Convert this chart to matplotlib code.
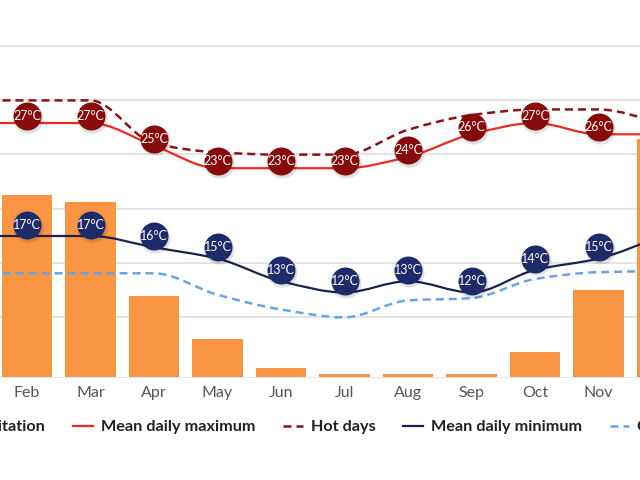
import numpy as np
import matplotlib
matplotlib.use("Agg")
import matplotlib.pyplot as plt
import matplotlib.transforms as mtransforms
from matplotlib.path import Path
from matplotlib.patches import PathPatch, Patch
from matplotlib.lines import Line2D

# ---- data ----
months = ["Jan", "Feb", "Mar", "Apr", "May", "Jun", "Jul", "Aug", "Sep", "Oct", "Nov", "Dec"]
precip_mm = [200, 167.6, 161, 74.6, 34.7, 8.3, 3, 3, 3, 23, 80, 219]
mean_max = [27, 27, 27, 25, 23, 23, 23, 24, 26, 27, 26, 26]
hot_days = [29, 29, 29, 25.2, 24.4, 24.2, 24.2, 26.4, 27.7, 28.2, 28.2, 27]
mean_min = [17, 17, 17, 16, 15, 13, 12, 13, 12, 14, 15, 17]
cold_nights = [13.7, 13.7, 13.7, 13.7, 11.8, 10.5, 9.8, 11.3, 11.5, 13.2, 13.8, 13.9]
legend_labels = ["Precipitation", "Mean daily maximum", "Hot days", "Mean daily minimum", "Cold nights"]

# ---- style ----
C_BAR = "#fa9544"
C_MAX = "#ec2a23"
C_HOT = "#8b1515"
C_MAXLBL = "#870b0b"
C_MIN = "#18244f"
C_MINLBL = "#1e2b6b"
C_COLD = "#6aa3e6"
FONT = "Lato"

plt.rcParams["font.family"] = [FONT, "DejaVu Sans"]

fig = plt.figure(figsize=(6.4, 4.8), dpi=100)
ax = fig.add_axes([0, (480 - 377) / 480, 1, 377 / 480])
ax2 = ax.twinx()

x = np.arange(len(months))

# precipitation bars
ax.bar(x, precip_mm, width=0.79, color=C_BAR, zorder=2)
ax.set_ylim(0, 377 * 50 / 54.3)
ax.set_yticks(np.arange(55, 340, 50))
ax.yaxis.grid(True, color="#e2e2e2", lw=1.3)
ax.set_axisbelow(True)
ax.set_xticks(x)
ax.set_xticklabels(months)
ax.tick_params(axis="x", length=0, pad=6.5, labelsize=11.5, labelcolor="#555555")
ax.tick_params(axis="y", length=0, labelleft=False, labelright=False)
for s in ax.spines.values():
    s.set_visible(False)
ax.spines["bottom"].set_visible(True)
ax.spines["bottom"].set_color("#e6e6e6")

ax2.set_ylim(27 - 254 / 11.3, 27 + 123 / 11.3)
ax2.set_autoscale_on(False)
ax2.set_yticks([])
for s in ax2.spines.values():
    s.set_visible(False)


def smooth_path(xs, ys):
    xs = np.asarray(xs, float)
    ys = np.asarray(ys, float)
    h = np.diff(xs)
    d = np.diff(ys) / h
    m = np.zeros_like(ys)
    m[0], m[-1] = d[0], d[-1]
    for k in range(1, len(ys) - 1):
        if d[k - 1] * d[k] <= 0:
            m[k] = 0.0
        else:
            m[k] = 2 * d[k - 1] * d[k] / (d[k - 1] + d[k])
    verts = [(xs[0], ys[0])]
    codes = [Path.MOVETO]
    for i in range(len(xs) - 1):
        hh = h[i] / 3
        verts += [(xs[i] + hh, ys[i] + m[i] * hh),
                  (xs[i + 1] - hh, ys[i + 1] - m[i + 1] * hh),
                  (xs[i + 1], ys[i + 1])]
        codes += [Path.CURVE4] * 3
    return Path(verts, codes)


def draw_line(vals, color, lw, ls, z):
    p = PathPatch(smooth_path(x, vals), fill=False, edgecolor=color, lw=lw,
                  linestyle=ls, transform=ax2.transData, zorder=z, capstyle="butt")
    ax2.add_patch(p)


dash = (0, (3.2, 2.0))
draw_line(cold_nights, C_COLD, 1.8, dash, 3)
draw_line(hot_days, C_HOT, 1.8, dash, 3)
draw_line(mean_min, C_MIN, 1.6, "-", 4)
draw_line(mean_max, C_MAX, 1.6, "-", 4)


def labels(vals, fill, off):
    shift = mtransforms.ScaledTranslation(0, off / 72, fig.dpi_scale_trans)
    shadow = mtransforms.ScaledTranslation(0.8 / 72, (off - 1.2) / 72, fig.dpi_scale_trans)
    ax2.scatter(x, vals, s=470, color="#000000", alpha=0.12, zorder=5, linewidths=0,
                transform=ax2.transData + shadow)
    ax2.scatter(x, vals, s=406, color=fill, zorder=6, linewidths=0,
                transform=ax2.transData + shift)
    for xi, v in zip(x, vals):
        ax2.annotate(f"{v}°C", (xi, v), xytext=(0, off), textcoords="offset points",
                     ha="center", va="center", color="white", fontsize=9,
                     zorder=7, annotation_clip=False)


labels(mean_max, C_MAXLBL, 5)
labels(mean_min, C_MINLBL, 8)

ax.set_xlim(1 - 27 / 63.5, 1 + 613 / 63.5)

handles = [
    Patch(facecolor=C_BAR),
    Line2D([], [], color=C_MAX, lw=1.6),
    Line2D([], [], color=C_HOT, lw=1.8, linestyle=dash),
    Line2D([], [], color=C_MIN, lw=1.6),
    Line2D([], [], color=C_COLD, lw=1.8, linestyle=dash),
]
fig.legend(handles, legend_labels, loc="center", bbox_to_anchor=(322 / 640, 1 - 427 / 480),
           ncol=5, frameon=False, prop={"family": FONT, "weight": "bold", "size": 11.7},
           handlelength=1.2, handletextpad=0.5, columnspacing=1.7, labelcolor="#222222")

fig.savefig("out.png", dpi=100)
